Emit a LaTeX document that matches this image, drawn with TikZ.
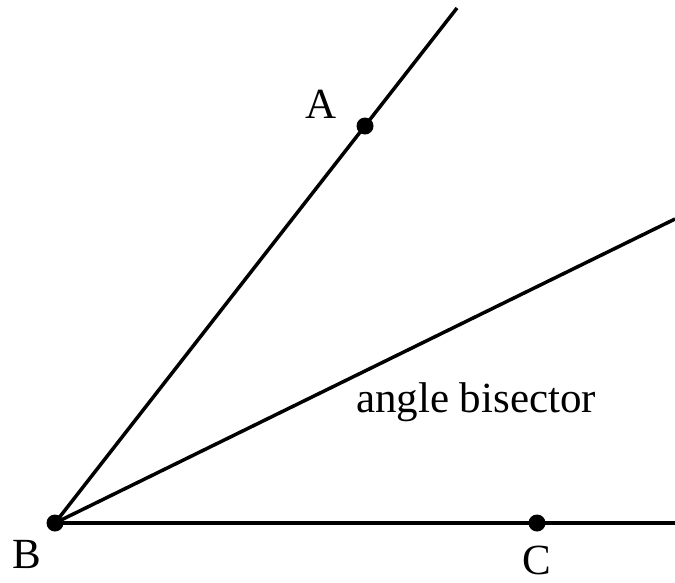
\documentclass[tikz,border=0pt]{standalone}
\usepackage{fontspec}
\setmainfont{Liberation Serif}
\begin{document}
\begin{tikzpicture}[x=1pt,y=-1pt,
  ray/.style={line width=3.5pt},
  dotpt/.style={circle,fill=black,inner sep=0pt,minimum size=17pt},
  lbl/.style={font=\fontsize{43}{48}\selectfont,inner sep=1pt}]
\useasboundingbox (0,0) rectangle (675,582);
\node[dotpt] (B) at (55,523) {};
\node[dotpt] (A) at (365,126) {};
\node[dotpt] (C) at (537,523) {};
\coordinate (Aend) at (457,8);
\coordinate (Dend) at (675,219);
\coordinate (Cend) at (675,523);
\draw[ray] (B.center) -- (Aend);
\draw[ray] (B.center) -- (Dend);
\draw[ray] (B.center) -- (Cend);
\node[lbl] (la) at (321,104) {A};
\node[lbl] (lb) at (27,554) {B};
\node[lbl] (lc) at (537,560) {C};
\node[lbl] (bis) at (476,402) {angle bisector};
\end{tikzpicture}
\end{document}
